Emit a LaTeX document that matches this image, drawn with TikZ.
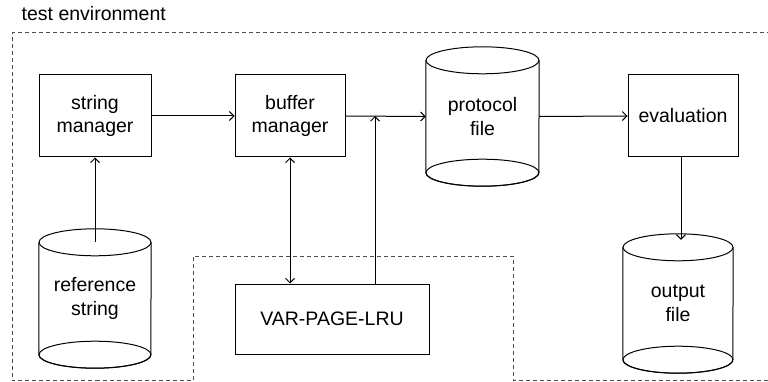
\documentclass[tikz,border=0pt]{standalone}
\usepackage{fontspec}
\setmainfont{Liberation Sans}
\usetikzlibrary{arrows.meta,calc}
\tikzset{
  base/.style={line width=1pt, draw=black},
  box/.style={base, rectangle, align=center, inner sep=0pt},
  cylnode/.style={rectangle, align=center, inner sep=0pt},
  arr/.style={line width=1pt, -{Straight Barb[length=4.5pt,width=9pt]}},
  arrb/.style={line width=1pt, {Straight Barb[length=4.5pt,width=9pt]}-{Straight Barb[length=4.5pt,width=9pt]}},
  envline/.style={line width=1pt, draw=black!70, dash pattern=on 4pt off 3pt},
}
\newcommand\mycyl[3]{%
  \draw[base, fill=white] ([yshift=-#3pt]#1.north west) -- ([yshift=#3pt]#1.south west)
     arc[start angle=180, end angle=360, x radius=#2pt, y radius=#3pt]
     -- ([yshift=-#3pt]#1.north east);
  \draw[base] ([yshift=-#3pt]#1.north) ellipse [x radius=#2pt, y radius=#3pt];
  \draw[base] ([yshift=#3pt]#1.south) ellipse [x radius=#2pt, y radius=#3pt];
}
\begin{document}
\begin{tikzpicture}[x=1pt, y=-1pt, font=\fontsize{19.5}{23.5}\selectfont]
\useasboundingbox (0,0) rectangle (768,382);
% environment outline
\draw[envline] (771,33) -- (12,33) -- (12,380.5) -- (193,380.5) -- (193,256) -- (513,256) -- (513,380.5) -- (771,380.5);
\node[anchor=base west, inner sep=0pt] (title) at (21.5,20.7) {test environment};
% boxes
\node[box, minimum width=112pt, minimum height=82pt] (sm) at (95,116) {string\\manager};
\node[box, minimum width=110pt, minimum height=82pt] (bm) at (290,116) {buffer\\manager};
\node[box, minimum width=110pt, minimum height=82pt] (ev) at (683,116) {evaluation};
\node[box, minimum width=194pt, minimum height=70pt] (vp) at (332,319) {VAR-PAGE-LRU};
% cylinders
\node[cylnode, minimum width=113pt, minimum height=139pt] (pf) at (482.5,116.5) {};
\mycyl{pf}{56.5}{13.5}
\node[align=center] at (pf.center) {protocol\\file};
\node[cylnode, minimum width=112pt, minimum height=139pt] (rs) at (95,298.5) {};
\mycyl{rs}{56}{13.5}
\node[align=center] at (rs.center) {reference\\string};
\node[cylnode, minimum width=110pt, minimum height=139pt] (of) at (678,303.5) {};
\mycyl{of}{55}{13.5}
\node[align=center] at (of.center) {output\\file};
% connectors
\coordinate (j) at (375,116);
\coordinate (oftop) at ([yshift=-6pt]of.north);
\draw[arr] (sm.east) -- (bm.west);
\draw[arr] ([yshift=-13.5pt]rs.north) -- (sm.south);
\draw[arrb] (bm.south) -- (bm.south |- vp.north);
\draw[arr] (vp.north -| j) -- (j);
\draw[arr] (bm.east) -- (pf.west);
\draw[arr] (pf.east) -- (ev.west);
\draw[arr] ([xshift=-2pt]ev.south) -- ([xshift=-2pt]ev.south |- oftop);
\end{tikzpicture}
\end{document}
